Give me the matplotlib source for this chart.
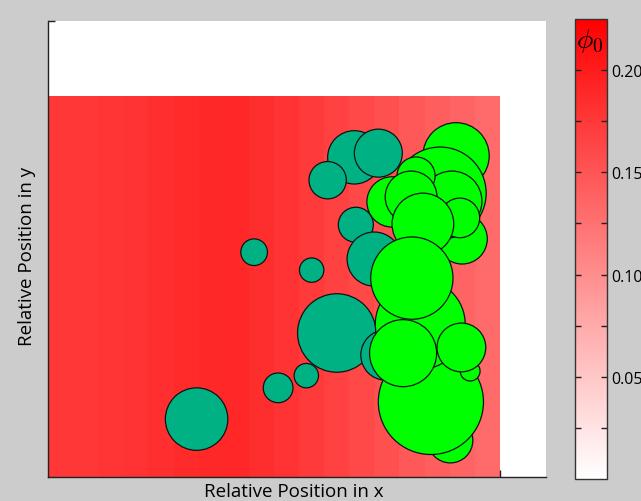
import numpy as np
import matplotlib
matplotlib.use('Agg')
import matplotlib.pyplot as plt
from matplotlib.colors import LinearSegmentedColormap
from matplotlib.patches import Circle

# phi_0 per column of the background field (left to right)
phi0_cols = [0.176, 0.1765, 0.179, 0.180, 0.183, 0.187, 0.189, 0.190, 0.184,
             0.180, 0.174, 0.167, 0.160, 0.154, 0.147, 0.142, 0.137, 0.131]
field_w = 1.186
field_h = 1.0

# particle positions and radii (relative units)
teal_x = [0.390, 0.541, 0.692, 0.758, 0.678, 0.604, 0.804, 0.867, 0.734,
          0.808, 0.856, 0.887]
teal_y = [0.152, 0.590, 0.543, 0.378, 0.266, 0.234, 0.839, 0.850, 0.779,
          0.662, 0.572, 0.320]
teal_r = [0.082, 0.035, 0.032, 0.103, 0.032, 0.039, 0.070, 0.063, 0.049,
          0.046, 0.071, 0.066]

green_x = [1.071, 1.087, 1.029, 1.060, 0.903, 0.966, 0.953, 1.081, 0.984,
           1.056, 1.005, 0.977, 1.108, 0.955, 0.932, 1.085]
green_y = [0.843, 0.625, 0.745, 0.724, 0.722, 0.790, 0.735, 0.680, 0.664,
           0.096, 0.197, 0.401, 0.278, 0.522, 0.325, 0.340]
green_r = [0.087, 0.066, 0.121, 0.079, 0.066, 0.050, 0.068, 0.052, 0.081,
           0.059, 0.138, 0.118, 0.026, 0.108, 0.088, 0.064]

phi_min, phi_max = 0.0, 0.225
cb_ticks = [0.05, 0.10, 0.15, 0.20]

W, H = 641, 502
fig = plt.figure(figsize=(W / 100, H / 100), dpi=100, facecolor='#cccccc')
plt.rcParams['font.family'] = ['Open Sans', 'DejaVu Sans']
plt.rcParams['mathtext.fontset'] = 'cm'

ax = fig.add_axes([48 / W, (H - 478) / H, 498 / W, 456 / H])
ax.set_facecolor('white')

cmap = LinearSegmentedColormap.from_list('white_red', ['#ffffff', '#ff0000'])

xedges = np.linspace(0, field_w, len(phi0_cols) + 1)
yedges = np.array([0, field_h])
mesh = ax.pcolormesh(xedges, yedges, np.array([phi0_cols]), cmap=cmap,
                     vmin=phi_min, vmax=phi_max, shading='flat')

teal = [Circle((x, y), r) for x, y, r in zip(teal_x, teal_y, teal_r)]
green = [Circle((x, y), r) for x, y, r in zip(green_x, green_y, green_r)]
for c in teal:
    c.set_facecolor('#00b283')
    c.set_edgecolor('#111111')
    c.set_linewidth(0.9)
    ax.add_patch(c)
for c in green:
    c.set_facecolor('#00ff00')
    c.set_edgecolor('#111111')
    c.set_linewidth(0.9)
    ax.add_patch(c)

ax.set_xlim(0, 498 / 381)
ax.set_ylim(0, 456 / 381)
ax.set_xticks([field_w])
ax.set_yticks([456 / 381])
ax.set_xticklabels([])
ax.set_yticklabels([])
ax.tick_params(direction='in', length=5, width=1, color='#222222')
ax.spines['top'].set_visible(False)
ax.spines['right'].set_visible(False)
for s in ['left', 'bottom']:
    ax.spines[s].set_color('#222222')
    ax.spines[s].set_linewidth(1)

fig.text(294 / W, 1 - 492 / H, 'Relative Position in x', ha='center',
         va='center', fontsize=13.5)
fig.text(27 / W, 1 - 256 / H, 'Relative Position in y', ha='center',
         va='center', rotation=90, fontsize=13.5)

""" Colorbar """

cax = fig.add_axes([575 / W, (H - 480) / H, 32 / W, 460 / H])
cb = fig.colorbar(mesh, cax=cax)
cb.set_ticks(cb_ticks)
cb.set_ticklabels(['%.2f' % t for t in cb_ticks])
cb.ax.set_yticks([0.025, 0.075, 0.125, 0.175], minor=True)
cb.ax.tick_params(which='both', direction='in', left=True, right=True,
                  length=4, width=1, color='#222222', labelsize=11.5, pad=3)
cb.outline.set_edgecolor('#333333')
cb.outline.set_linewidth(1)
cax.text(0.45, 0.955, r'$\phi_0$', transform=cax.transAxes, ha='center',
         va='center', fontsize=20, color='black')

fig.savefig('out.png', dpi=100, facecolor=fig.get_facecolor())
